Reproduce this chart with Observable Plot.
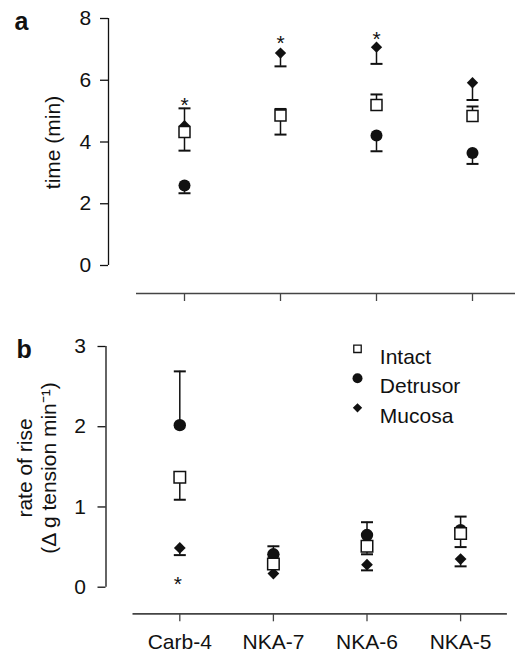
<!DOCTYPE html>
<html>
<head>
<meta charset="utf-8">
<script src="https://cdn.jsdelivr.net/npm/d3@7"></script>
<script src="https://cdn.jsdelivr.net/npm/@observablehq/plot@0.6"></script>
<style>
  body { margin: 0; background: #fff; }
  #chart { width: 515px; height: 653px; position: relative; overflow: hidden; }
  #chart svg { display: block; }
</style>
</head>
<body>
<div id="chart"></div>
<script>
// ---------- data ----------
const categories = ["Carb-4", "NKA-7", "NKA-6", "NKA-5"];
const seriesNames = ["Intact", "Detrusor", "Mucosa"];

// Panel a: time (min)
const timeTicks = [0, 2, 4, 6, 8];
const timeIntact     = [4.32, 4.86, 5.20, 4.84];
const timeIntactLo   = [3.72, 4.24, null, null];
const timeIntactHi   = [null, 5.07, 5.54, 5.15];
const timeDetrusor   = [2.59, null, 4.21, 3.64];
const timeDetrusorLo = [2.34, null, 3.70, 3.29];
const timeDetrusorHi = [null, null, null, null];
const timeMucosa     = [4.53, 6.88, 7.07, 5.92];
const timeMucosaLo   = [null, 6.45, 6.53, 5.36];
const timeMucosaHi   = [5.09, null, null, null];
const timeStars      = [5.37, 7.37, 7.50, null];

// Panel b: rate of rise (Δ g tension min−1)
const rateTicks = [0, 1, 2, 3];
const rateIntact     = [1.37, 0.29, 0.51, 0.67];
const rateIntactLo   = [1.09, null, 0.41, 0.50];
const rateIntactHi   = [null, null, null, null];
const rateDetrusor   = [2.02, 0.41, 0.65, 0.71];
const rateDetrusorLo = [null, null, null, null];
const rateDetrusorHi = [2.69, 0.51, 0.81, 0.88];
const rateMucosa     = [0.49, 0.17, 0.28, 0.35];
const rateMucosaLo   = [0.40, null, 0.21, 0.26];
const rateMucosaHi   = [null, null, null, null];
const rateStars      = [0.10, null, null, null];

// ---------- helpers ----------
const FONT = "'Liberation Sans', Arial, Helvetica, sans-serif";
const FS = 21;
const INK = "#111";

const capSymbol = {
  draw(ctx, size) {
    const w = Math.sqrt(size / Math.PI);
    ctx.moveTo(-w, 0);
    ctx.lineTo(w, 0);
  }
};

function rows(series, values, lo, hi) {
  return values.map((v, i) => ({series, i, value: v, lo: lo[i], hi: hi[i]}))
               .filter(d => d.value != null);
}

function stems(allRows) {
  const out = [];
  for (const d of allRows) {
    if (d.lo != null) out.push({i: d.i, from: d.value, to: d.lo});
    if (d.hi != null) out.push({i: d.i, from: d.value, to: d.hi});
  }
  return out;
}

function panel(cfg) {
  const xDomain = [(cfg.yAxisX - cfg.cat0) / cfg.step, categories.length - 0.5];
  const xRange = [cfg.yAxisX, cfg.cat0 + xDomain[1] * cfg.step];
  const intact = rows("Intact", ...cfg.intact);
  const detrusor = rows("Detrusor", ...cfg.detrusor);
  const mucosa = rows("Mucosa", ...cfg.mucosa);
  const errs = stems([...intact, ...detrusor, ...mucosa]);
  const stars = cfg.stars.map((v, i) => ({i, v})).filter(d => d.v != null);
  const frameMidY = (cfg.top + cfg.axisLineY) / 2;

  const marks = [
    // y axis line
    Plot.ruleX([xDomain[0]], {y1: cfg.yDomain[0], y2: cfg.yDomain[1], stroke: INK, strokeWidth: 1.3}),
    Plot.axisY({ticks: cfg.ticks, tickSize: 8, tickPadding: cfg.tickPad, label: null, tickFormat: d3.format("d"),
      strokeWidth: 1.3, stroke: INK, fill: INK, fontSize: FS}),
    // x axis line, set below the plotting area
    Plot.ruleY([cfg.yDomain[0]], {x1: -0.5, x2: xDomain[1], dy: cfg.axisLineY - cfg.zeroY, stroke: "#444", strokeWidth: 1.7}),
    Plot.axisX({ticks: d3.range(categories.length), tickSize: 8, tickPadding: 12.5, label: null,
      tickFormat: cfg.xLabels ? (i => categories[i]) : (() => ""), strokeWidth: 1.3, stroke: "#444", fill: INK, fontSize: FS}),
    // error bars
    Plot.ruleX(errs, {x: "i", y1: "from", y2: "to", stroke: INK, strokeWidth: 1.5}),
    Plot.dot(errs, {x: "i", y: "to", symbol: capSymbol, r: 6, stroke: INK, strokeWidth: 2}),
    // markers
    Plot.dot(detrusor, {x: "i", y: "value", symbol: "circle", r: cfg.r.circle, fill: INK, stroke: "none"}),
    Plot.dot(mucosa, {x: "i", y: "value", symbol: "diamond2", r: cfg.r.diamond, fill: INK, stroke: "none"}),
    Plot.dot(intact, {x: "i", y: "value", symbol: "square", r: cfg.r.square, fill: "white", stroke: INK, strokeWidth: 1.5}),
    // significance stars
    Plot.text(stars, {x: "i", y: "v", text: () => "*", dx: cfg.starDx, dy: 5.5, fontSize: FS, fill: INK}),
    // panel letter
    Plot.text([cfg.letter], {frameAnchor: "top-left", textAnchor: "start", lineAnchor: "bottom",
      dx: cfg.letterX - cfg.yAxisX, dy: cfg.letterBase - cfg.top, fontSize: 25, fontWeight: "bold", fill: INK}),
    // y label lines
    ...cfg.yLabel.map(l => Plot.text([l.text], {frameAnchor: "left", rotate: -90, textAnchor: "middle", lineAnchor: l.anchor,
      dx: l.x - cfg.yAxisX, dy: l.y - frameMidY, fontSize: FS, fill: INK}))
  ];

  if (cfg.legend) {
    const syms = {Intact: "square", Detrusor: "circle", Mucosa: "diamond2"};
    const rs = {Intact: 4.2, Detrusor: 5, Mucosa: 4.2};
    seriesNames.forEach((s, k) => {
      const cy = cfg.legend.y0 + k * cfg.legend.dy - cfg.top;
      marks.push(Plot.dot([s], {frameAnchor: "top-left", dx: cfg.legend.x - cfg.yAxisX, dy: cy,
        symbol: syms[s], r: rs[s], fill: s === "Intact" ? "white" : INK, stroke: s === "Intact" ? INK : "none", strokeWidth: 1.3}));
      marks.push(Plot.text([s], {frameAnchor: "top-left", textAnchor: "start", dx: cfg.legend.tx - cfg.yAxisX, dy: cy,
        fontSize: FS, fill: INK}));
    });
  }

  return Plot.plot({
    width: 515,
    height: cfg.height,
    marginTop: cfg.top,
    marginLeft: cfg.yAxisX,
    marginRight: 0,
    marginBottom: cfg.height - cfg.axisLineY,
    style: {fontFamily: FONT, fontSize: FS + "px", color: INK, background: "white", overflow: "visible"},
    x: {type: "linear", domain: xDomain, range: xRange},
    y: {type: "linear", domain: cfg.yDomain, range: [cfg.zeroY, cfg.top]},
    marks
  });
}

const panelA = panel({
  height: 315, top: 18, zeroY: 265, axisLineY: 293, yAxisX: 108, cat0: 184, step: 96,
  tickPad: 9.2, xLabels: false, yDomain: [0, 8], ticks: timeTicks,
  intact: [timeIntact, timeIntactLo, timeIntactHi],
  detrusor: [timeDetrusor, timeDetrusorLo, timeDetrusorHi],
  mucosa: [timeMucosa, timeMucosaLo, timeMucosaHi],
  stars: timeStars, starDx: 0,
  r: {circle: 6, square: 6.2, diamond: 5.1},
  letter: "a", letterX: 14, letterBase: 29,
  yLabel: [{text: "time (min)", x: 53, y: 142, anchor: "middle"}]
});

const panelB = panel({
  height: 338, top: 31, zeroY: 271.7, axisLineY: 298.3, yAxisX: 105.5, cat0: 179.3, step: 93.6,
  tickPad: 12, xLabels: true, yDomain: [0, 3], ticks: rateTicks,
  intact: [rateIntact, rateIntactLo, rateIntactHi],
  detrusor: [rateDetrusor, rateDetrusorLo, rateDetrusorHi],
  mucosa: [rateMucosa, rateMucosaLo, rateMucosaHi],
  stars: rateStars, starDx: -2,
  r: {circle: 6.2, square: 6.5, diamond: 5.3},
  letter: "b", letterX: 16, letterBase: 42.3,
  yLabel: [
    {text: "rate of rise", x: 31.7, y: 152.5, anchor: "bottom"},
    {text: "(Δ g tension min⁻¹)", x: 55.5, y: 152.5, anchor: "bottom"}
  ],
  legend: {x: 357, tx: 379.3, y0: 348.3 - 315, dy: 29.5}
});

document.getElementById("chart").append(panelA, panelB);
</script>
</body>
</html>
